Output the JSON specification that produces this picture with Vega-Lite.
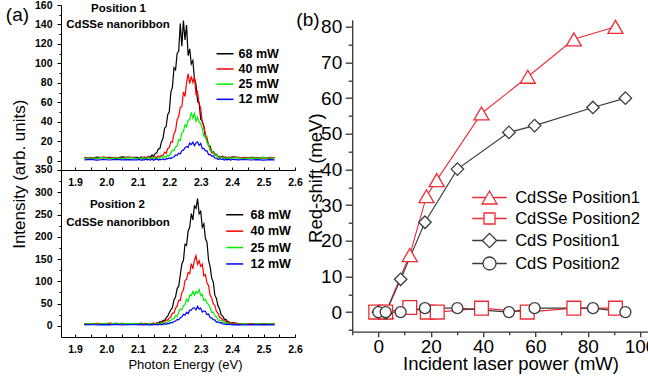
{
"$schema": "https://vega.github.io/schema/vega-lite/v6.json",
"padding": {"left": 5, "top": 0, "right": 0, "bottom": 0},
"config": {
  "font": "Liberation Sans",
  "view": {"stroke": null},
  "axis": {"grid": false, "labelFlush": false, "labelOverlap": false, "labelBound": false, "domainColor": "black", "tickColor": "black", "labelColor": "black", "titleColor": "black", "titleFontWeight": "normal"},
  "legend": {"labelColor": "black"}
},
"datasets": {
"pos1": [
{"e":1.93,"68 mW":3.2,"40 mW":2.6,"25 mW":2.1,"12 mW":0.9},
{"e":1.95,"68 mW":2.5,"40 mW":3.4,"25 mW":3.0,"12 mW":1.3},
{"e":1.97,"68 mW":3.6,"40 mW":2.2,"25 mW":2.4,"12 mW":0.6},
{"e":1.99,"68 mW":2.8,"40 mW":3.9,"25 mW":3.3,"12 mW":1.2},
{"e":2.01,"68 mW":3.4,"40 mW":2.7,"25 mW":1.9,"12 mW":0.7},
{"e":2.03,"68 mW":2.6,"40 mW":3.5,"25 mW":2.9,"12 mW":1.4},
{"e":2.05,"68 mW":3.9,"40 mW":2.4,"25 mW":2.2,"12 mW":0.8},
{"e":2.07,"68 mW":3.1,"40 mW":3.8,"25 mW":3.2,"12 mW":1.1},
{"e":2.09,"68 mW":3.5,"40 mW":2.9,"25 mW":2.6,"12 mW":0.9},
{"e":2.100,"68 mW":3.4,"40 mW":2.2,"25 mW":1.6,"12 mW":0.8},
{"e":2.105,"68 mW":2.3,"40 mW":3.2,"25 mW":3.1,"12 mW":1.5},
{"e":2.110,"68 mW":4.0,"40 mW":2.6,"25 mW":2.3,"12 mW":0.3},
{"e":2.115,"68 mW":2.8,"40 mW":3.7,"25 mW":3.3,"12 mW":1.1},
{"e":2.120,"68 mW":3.8,"40 mW":2.0,"25 mW":1.9,"12 mW":0.65},
{"e":2.125,"68 mW":2.2,"40 mW":3.5,"25 mW":2.6,"12 mW":1.6},
{"e":2.130,"68 mW":3.5,"40 mW":2.9,"25 mW":2.1,"12 mW":0.9},
{"e":2.135,"68 mW":4.6,"40 mW":4.3,"25 mW":3.4,"12 mW":1.3},
{"e":2.140,"68 mW":3.6,"40 mW":2.5,"25 mW":1.7,"12 mW":0.5},
{"e":2.145,"68 mW":5.9,"40 mW":3.5,"25 mW":3.0,"12 mW":1.4},
{"e":2.150,"68 mW":4.5,"40 mW":2.1,"25 mW":2.25,"12 mW":0.4},
{"e":2.155,"68 mW":7.1,"40 mW":4.1,"25 mW":3.3,"12 mW":1.3},
{"e":2.160,"68 mW":8.0,"40 mW":3.3,"25 mW":1.7,"12 mW":1.7},
{"e":2.165,"68 mW":12.0,"40 mW":4.9,"25 mW":3.0,"12 mW":0.7},
{"e":2.170,"68 mW":12.3,"40 mW":3.6,"25 mW":2.4,"12 mW":1.3},
{"e":2.175,"68 mW":19.1,"40 mW":5.2,"25 mW":4.0,"12 mW":0.95},
{"e":2.180,"68 mW":23.0,"40 mW":5.4,"25 mW":3.3,"12 mW":1.85},
{"e":2.185,"68 mW":33.2,"40 mW":8.7,"25 mW":4.3,"12 mW":0.9},
{"e":2.190,"68 mW":35.0,"40 mW":7.6,"25 mW":3.6,"12 mW":2.1},
{"e":2.195,"68 mW":47.2,"40 mW":12.3,"25 mW":5.9,"12 mW":1.85},
{"e":2.200,"68 mW":50.2,"40 mW":13.4,"25 mW":5.0,"12 mW":2.9},
{"e":2.205,"68 mW":70.2,"40 mW":19.4,"25 mW":8.0,"12 mW":2.2},
{"e":2.210,"68 mW":75.6,"40 mW":19.0,"25 mW":10.7,"12 mW":3.5},
{"e":2.215,"68 mW":95.5,"40 mW":27.6,"25 mW":10.1,"12 mW":3.8},
{"e":2.220,"68 mW":93.3,"40 mW":30.7,"25 mW":14.0,"12 mW":5.9},
{"e":2.225,"68 mW":110.1,"40 mW":42.4,"25 mW":15.5,"12 mW":5.4},
{"e":2.230,"68 mW":112.7,"40 mW":45.2,"25 mW":21.6,"12 mW":7.7},
{"e":2.235,"68 mW":141.0,"40 mW":55.0,"25 mW":20.7,"12 mW":6.9},
{"e":2.240,"68 mW":117.7,"40 mW":55.4,"25 mW":28.6,"12 mW":10.2},
{"e":2.245,"68 mW":144.0,"40 mW":70.6,"25 mW":29.9,"12 mW":10.8},
{"e":2.250,"68 mW":124.2,"40 mW":66.0,"25 mW":37.0,"12 mW":13.4},
{"e":2.255,"68 mW":139.5,"40 mW":80.2,"25 mW":34.8,"12 mW":14.5},
{"e":2.260,"68 mW":107.9,"40 mW":89.2,"25 mW":41.6,"12 mW":13.6},
{"e":2.265,"68 mW":114.9,"40 mW":79.1,"25 mW":42.1,"12 mW":18.1},
{"e":2.270,"68 mW":99.3,"40 mW":86.7,"25 mW":49.6,"12 mW":16.5},
{"e":2.275,"68 mW":102.9,"40 mW":80.4,"25 mW":43.6,"12 mW":19.0},
{"e":2.280,"68 mW":84.5,"40 mW":86.0,"25 mW":48.6,"12 mW":15.4},
{"e":2.285,"68 mW":78.5,"40 mW":68.6,"25 mW":40.5,"12 mW":18.3},
{"e":2.290,"68 mW":60.7,"40 mW":71.1,"25 mW":44.6,"12 mW":19.4},
{"e":2.295,"68 mW":59.6,"40 mW":58.2,"25 mW":39.5,"12 mW":15.7},
{"e":2.300,"68 mW":42.5,"40 mW":54.3,"25 mW":38.3,"12 mW":17.7},
{"e":2.305,"68 mW":40.6,"40 mW":39.3,"25 mW":33.0,"12 mW":12.4},
{"e":2.310,"68 mW":35.6,"40 mW":35.1,"25 mW":25.3,"12 mW":12.7},
{"e":2.315,"68 mW":24.1,"40 mW":26.6,"25 mW":25.5,"12 mW":10.0},
{"e":2.320,"68 mW":21.6,"40 mW":23.9,"25 mW":18.5,"12 mW":10.0},
{"e":2.325,"68 mW":15.7,"40 mW":15.4,"25 mW":16.5,"12 mW":6.2},
{"e":2.330,"68 mW":14.8,"40 mW":13.4,"25 mW":10.5,"12 mW":6.5},
{"e":2.335,"68 mW":9.1,"40 mW":8.0,"25 mW":9.9,"12 mW":4.7},
{"e":2.340,"68 mW":9.4,"40 mW":8.0,"25 mW":8.8,"12 mW":4.8},
{"e":2.345,"68 mW":6.6,"40 mW":5.7,"25 mW":5.6,"12 mW":2.5},
{"e":2.350,"68 mW":6.7,"40 mW":5.5,"25 mW":6.1,"12 mW":2.7},
{"e":2.355,"68 mW":3.9,"40 mW":4.5,"25 mW":3.3,"12 mW":1.2},
{"e":2.360,"68 mW":4.4,"40 mW":2.9,"25 mW":3.8,"12 mW":2.1},
{"e":2.365,"68 mW":3.5,"40 mW":4.4,"25 mW":2.8,"12 mW":1.25},
{"e":2.370,"68 mW":4.6,"40 mW":3.0,"25 mW":3.5,"12 mW":1.8},
{"e":2.375,"68 mW":2.7,"40 mW":3.7,"25 mW":1.9,"12 mW":0.7},
{"e":2.380,"68 mW":3.7,"40 mW":2.0,"25 mW":3.1,"12 mW":1.2},
{"e":2.385,"68 mW":2.0,"40 mW":3.1,"25 mW":2.5,"12 mW":0.8},
{"e":2.390,"68 mW":3.5,"40 mW":3.8,"25 mW":3.5,"12 mW":1.6},
{"e":2.395,"68 mW":2.9,"40 mW":2.5,"25 mW":2.0,"12 mW":0.45},
{"e":2.400,"68 mW":3.6,"40 mW":4.1,"25 mW":2.8,"12 mW":1.35},
{"e":2.42,"68 mW":3.3,"40 mW":2.8,"25 mW":3.0,"12 mW":0.8},
{"e":2.44,"68 mW":2.6,"40 mW":3.4,"25 mW":2.2,"12 mW":1.2},
{"e":2.46,"68 mW":3.5,"40 mW":2.5,"25 mW":2.9,"12 mW":0.7},
{"e":2.48,"68 mW":2.9,"40 mW":3.2,"25 mW":2.4,"12 mW":1.1},
{"e":2.50,"68 mW":3.4,"40 mW":2.7,"25 mW":3.1,"12 mW":0.6},
{"e":2.52,"68 mW":2.7,"40 mW":3.3,"25 mW":2.5,"12 mW":1.0},
{"e":2.535,"68 mW":3.1,"40 mW":2.9,"25 mW":2.8,"12 mW":0.8}
],
"pos2": [
{"e":1.93,"68 mW":4.3,"40 mW":5.1,"25 mW":3.8,"12 mW":2.4},
{"e":1.95,"68 mW":5.2,"40 mW":3.9,"25 mW":4.9,"12 mW":3.1},
{"e":1.97,"68 mW":3.8,"40 mW":5.6,"25 mW":3.5,"12 mW":1.9},
{"e":1.99,"68 mW":4.9,"40 mW":4.4,"25 mW":5.3,"12 mW":2.8},
{"e":2.01,"68 mW":4.1,"40 mW":6.0,"25 mW":4.2,"12 mW":2.2},
{"e":2.03,"68 mW":5.6,"40 mW":4.5,"25 mW":5.8,"12 mW":3.3},
{"e":2.05,"68 mW":4.4,"40 mW":5.7,"25 mW":4.0,"12 mW":2.0},
{"e":2.07,"68 mW":5.3,"40 mW":4.2,"25 mW":5.5,"12 mW":2.9},
{"e":2.09,"68 mW":4.7,"40 mW":5.4,"25 mW":4.6,"12 mW":2.5},
{"e":2.100,"68 mW":3.2,"40 mW":3.2,"25 mW":4.6,"12 mW":2.6},
{"e":2.105,"68 mW":5.0,"40 mW":4.7,"25 mW":3.9,"12 mW":2.1},
{"e":2.110,"68 mW":5.9,"40 mW":5.5,"25 mW":5.4,"12 mW":3.4},
{"e":2.115,"68 mW":3.6,"40 mW":3.9,"25 mW":3.3,"12 mW":1.7},
{"e":2.120,"68 mW":4.8,"40 mW":5.9,"25 mW":4.4,"12 mW":3.0},
{"e":2.125,"68 mW":4.0,"40 mW":3.5,"25 mW":2.7,"12 mW":2.2},
{"e":2.130,"68 mW":5.7,"40 mW":4.9,"25 mW":4.8,"12 mW":3.2},
{"e":2.135,"68 mW":3.5,"40 mW":4.1,"25 mW":3.8,"12 mW":1.5},
{"e":2.140,"68 mW":5.5,"40 mW":5.6,"25 mW":5.2,"12 mW":2.7},
{"e":2.145,"68 mW":4.6,"40 mW":3.5,"25 mW":3.3,"12 mW":2.06},
{"e":2.150,"68 mW":6.1,"40 mW":5.5,"25 mW":4.3,"12 mW":3.4},
{"e":2.155,"68 mW":4.4,"40 mW":4.9,"25 mW":3.7,"12 mW":2.55},
{"e":2.160,"68 mW":6.2,"40 mW":6.9,"25 mW":5.7,"12 mW":3.1},
{"e":2.165,"68 mW":6.3,"40 mW":5.0,"25 mW":3.5,"12 mW":2.1},
{"e":2.170,"68 mW":9.3,"40 mW":6.8,"25 mW":5.7,"12 mW":3.6},
{"e":2.175,"68 mW":8.4,"40 mW":5.6,"25 mW":4.9,"12 mW":2.2},
{"e":2.180,"68 mW":12.1,"40 mW":9.3,"25 mW":7.0,"12 mW":3.8},
{"e":2.185,"68 mW":12.0,"40 mW":9.3,"25 mW":4.9,"12 mW":4.9},
{"e":2.190,"68 mW":18.2,"40 mW":13.2,"25 mW":7.9,"12 mW":3.6},
{"e":2.195,"68 mW":21.8,"40 mW":12.7,"25 mW":7.9,"12 mW":5.2},
{"e":2.200,"68 mW":29.4,"40 mW":17.4,"25 mW":12.0,"12 mW":5.2},
{"e":2.205,"68 mW":36.0,"40 mW":19.9,"25 mW":12.1,"12 mW":7.8},
{"e":2.210,"68 mW":41.1,"40 mW":28.6,"25 mW":15.7,"12 mW":6.7},
{"e":2.215,"68 mW":58.1,"40 mW":28.5,"25 mW":15.7,"12 mW":10.4},
{"e":2.220,"68 mW":65.1,"40 mW":40.1,"25 mW":22.9,"12 mW":10.8},
{"e":2.225,"68 mW":83.7,"40 mW":44.2,"25 mW":21.7,"12 mW":14.6},
{"e":2.230,"68 mW":89.0,"40 mW":57.9,"25 mW":30.4,"12 mW":13.6},
{"e":2.235,"68 mW":114.3,"40 mW":57.3,"25 mW":37.9,"12 mW":18.2},
{"e":2.240,"68 mW":139.3,"40 mW":75.0,"25 mW":36.2,"12 mW":19.6},
{"e":2.245,"68 mW":146.8,"40 mW":80.3,"25 mW":45.5,"12 mW":26.0},
{"e":2.250,"68 mW":183.2,"40 mW":101.9,"25 mW":47.5,"12 mW":24.1},
{"e":2.255,"68 mW":180.8,"40 mW":104.6,"25 mW":59.9,"12 mW":30.5},
{"e":2.260,"68 mW":212.7,"40 mW":119.8,"25 mW":54.8,"12 mW":27.4},
{"e":2.265,"68 mW":221.4,"40 mW":117.0,"25 mW":68.9,"12 mW":35.2},
{"e":2.270,"68 mW":252.2,"40 mW":139.9,"25 mW":67.5,"12 mW":35.4},
{"e":2.275,"68 mW":237.9,"40 mW":128.1,"25 mW":77.2,"12 mW":40.1},
{"e":2.280,"68 mW":269.1,"40 mW":147.5,"25 mW":68.7,"12 mW":40.3},
{"e":2.285,"68 mW":263.8,"40 mW":157.6,"25 mW":76.8,"12 mW":36.1},
{"e":2.290,"68 mW":285.8,"40 mW":138.5,"25 mW":73.3,"12 mW":43.7},
{"e":2.295,"68 mW":251.6,"40 mW":146.2,"25 mW":81.4,"12 mW":37.6},
{"e":2.300,"68 mW":257.1,"40 mW":133.5,"25 mW":67.8,"12 mW":39.9},
{"e":2.305,"68 mW":221.4,"40 mW":138.8,"25 mW":71.1,"12 mW":30.9},
{"e":2.310,"68 mW":229.4,"40 mW":112.4,"25 mW":56.5,"12 mW":33.3},
{"e":2.315,"68 mW":196.1,"40 mW":115.0,"25 mW":59.5,"12 mW":32.9},
{"e":2.320,"68 mW":187.9,"40 mW":96.2,"25 mW":50.8,"12 mW":25.2},
{"e":2.325,"68 mW":147.1,"40 mW":90.5,"25 mW":47.9,"12 mW":26.8},
{"e":2.330,"68 mW":133.0,"40 mW":68.7,"25 mW":40.6,"12 mW":18.3},
{"e":2.335,"68 mW":107.2,"40 mW":62.7,"25 mW":30.6,"12 mW":18.1},
{"e":2.340,"68 mW":98.2,"40 mW":50.0,"25 mW":30.9,"12 mW":14.1},
{"e":2.345,"68 mW":68.9,"40 mW":45.8,"25 mW":22.4,"12 mW":13.6},
{"e":2.350,"68 mW":61.8,"40 mW":32.2,"25 mW":20.5,"12 mW":8.7},
{"e":2.355,"68 mW":45.1,"40 mW":28.5,"25 mW":13.2,"12 mW":9.1},
{"e":2.360,"68 mW":38.7,"40 mW":19.0,"25 mW":12.9,"12 mW":6.8},
{"e":2.365,"68 mW":24.7,"40 mW":17.9,"25 mW":11.8,"12 mW":7.2},
{"e":2.370,"68 mW":21.8,"40 mW":13.4,"25 mW":7.9,"12 mW":4.2},
{"e":2.375,"68 mW":15.2,"40 mW":12.0,"25 mW":8.8,"12 mW":4.5},
{"e":2.380,"68 mW":14.5,"40 mW":9.6,"25 mW":5.1,"12 mW":2.6},
{"e":2.385,"68 mW":9.9,"40 mW":6.5,"25 mW":5.9,"12 mW":3.9},
{"e":2.390,"68 mW":8.9,"40 mW":7.8,"25 mW":4.6,"12 mW":2.8},
{"e":2.395,"68 mW":5.7,"40 mW":5.5,"25 mW":5.5,"12 mW":3.7},
{"e":2.400,"68 mW":7.1,"40 mW":6.2,"25 mW":3.3,"12 mW":2.1},
{"e":2.42,"68 mW":4.9,"40 mW":5.2,"25 mW":3.9,"12 mW":2.6},
{"e":2.44,"68 mW":4.2,"40 mW":4.1,"25 mW":4.8,"12 mW":2.0},
{"e":2.46,"68 mW":5.1,"40 mW":5.0,"25 mW":3.6,"12 mW":2.9},
{"e":2.48,"68 mW":4.0,"40 mW":4.4,"25 mW":4.5,"12 mW":2.3},
{"e":2.50,"68 mW":4.8,"40 mW":5.3,"25 mW":3.8,"12 mW":2.7},
{"e":2.52,"68 mW":4.4,"40 mW":4.3,"25 mW":4.4,"12 mW":2.1},
{"e":2.535,"68 mW":4.6,"40 mW":4.8,"25 mW":4.1,"12 mW":2.4}
],
"shift": [
{"series":"CdSSe Position1","power":0,"shift":0},
{"series":"CdSSe Position1","power":2.8,"shift":0},
{"series":"CdSSe Position1","power":12,"shift":16},
{"series":"CdSSe Position1","power":18.4,"shift":32.5},
{"series":"CdSSe Position1","power":22.3,"shift":37},
{"series":"CdSSe Position1","power":39.4,"shift":55.7},
{"series":"CdSSe Position1","power":57.1,"shift":66},
{"series":"CdSSe Position1","power":74.7,"shift":76.5},
{"series":"CdSSe Position1","power":90.6,"shift":80},
{"series":"CdSSe Position2","power":-1,"shift":0},
{"series":"CdSSe Position2","power":2.8,"shift":0},
{"series":"CdSSe Position2","power":12,"shift":1.3},
{"series":"CdSSe Position2","power":18.7,"shift":0},
{"series":"CdSSe Position2","power":22.5,"shift":0},
{"series":"CdSSe Position2","power":39.4,"shift":1.1},
{"series":"CdSSe Position2","power":56.9,"shift":0},
{"series":"CdSSe Position2","power":74.7,"shift":1.1},
{"series":"CdSSe Position2","power":90.6,"shift":1.1},
{"series":"CdS Position1","power":0,"shift":0},
{"series":"CdS Position1","power":2.8,"shift":-0.3},
{"series":"CdS Position1","power":8.5,"shift":9.2},
{"series":"CdS Position1","power":17.8,"shift":25.2},
{"series":"CdS Position1","power":30.2,"shift":40.1},
{"series":"CdS Position1","power":49.9,"shift":50.4},
{"series":"CdS Position1","power":59.7,"shift":52.3},
{"series":"CdS Position1","power":82,"shift":57.4},
{"series":"CdS Position1","power":94.4,"shift":60},
{"series":"CdS Position2","power":0,"shift":0},
{"series":"CdS Position2","power":2.8,"shift":0},
{"series":"CdS Position2","power":8.5,"shift":0},
{"series":"CdS Position2","power":17.8,"shift":1.1},
{"series":"CdS Position2","power":30.2,"shift":1.1},
{"series":"CdS Position2","power":49.9,"shift":0},
{"series":"CdS Position2","power":59.7,"shift":1.1},
{"series":"CdS Position2","power":82,"shift":1.1},
{"series":"CdS Position2","power":94.4,"shift":0}
]
},
"bounds": "flush",
"spacing": 57.2,
"resolve": {"scale": {"color": "independent", "stroke": "independent", "shape": "independent", "size": "independent"}, "legend": {"color": "independent", "stroke": "independent", "shape": "independent", "size": "independent"}},
"hconcat": [
{
  "width": 234, "height": 332,
  "resolve": {"scale": {"y": "independent", "color": "independent"}, "axis": {"x": "independent", "y": "independent"}, "legend": {"color": "independent"}},
  "layer": [
  {
    "resolve": {"axis": {"x": "independent", "y": "independent"}},
    "layer": [
    {
      "data": {"name": "pos1"},
      "transform": [{"fold": ["68 mW", "40 mW", "25 mW", "12 mW"], "as": ["power", "intensity"]}],
      "mark": {"type": "line", "strokeWidth": 1.2},
      "encoding": {
        "x": {"field": "e", "type": "quantitative", "scale": {"domain": [1.8555, 2.6], "nice": false, "zero": false},
          "axis": {"orient": "bottom", "offset": -167, "title": null, "values": [1.9, 2.0, 2.1, 2.2, 2.3, 2.4, 2.5, 2.6], "format": ".1f", "ticks": false, "labelPadding": 7.5, "labelFontSize": 10.5, "labelFontWeight": "bold", "domainWidth": 1}},
        "y": {"field": "intensity", "type": "quantitative", "scale": {"domain": [-181.25, 160], "nice": false, "zero": false},
          "axis": {"orient": "left", "title": null, "domain": false, "values": [0, 20, 40, 60, 80, 100, 120, 140, 160], "tickSize": 4, "labelPadding": 5, "labelFontSize": 10.5, "labelFontWeight": "bold"}},
        "color": {"field": "power", "type": "nominal", "scale": {"domain": ["68 mW", "40 mW", "25 mW", "12 mW"], "range": ["#000000", "#ff0000", "#00ee00", "#0000ff"]},
          "legend": {"orient": "none", "legendX": 157.75, "legendY": 42.5, "title": null, "padding": 0, "symbolType": "M-2,0H2", "symbolSize": 72.25, "symbolStrokeWidth": 1.5, "labelOffset": 7.25, "rowPadding": 2.2, "labelFontSize": 12.5, "labelFontWeight": "bold", "labelColor": "black"}}
      }
    },
    {
      "data": {"values": []},
      "mark": {"type": "point"},
      "encoding": {
        "x": {"field": "e", "type": "quantitative", "axis": {"orient": "bottom", "offset": -167, "title": null, "values": [1.9, 1.95, 2.0, 2.05, 2.1, 2.15, 2.2, 2.25, 2.3, 2.35, 2.4, 2.45, 2.5, 2.55, 2.6], "labels": false, "domain": false, "tickSize": -3}},
        "y": {"field": "intensity", "type": "quantitative", "axis": {"orient": "left", "title": null, "values": [10, 30, 50, 70, 90, 110, 130, 150], "labels": false, "domain": false, "tickSize": 2}}
      }
    },
    {
      "data": {"values": [{}]},
      "mark": {"type": "text", "fontSize": 11.5, "fontWeight": "bold", "align": "center", "baseline": "middle", "color": "black"},
      "encoding": {"x": {"datum": 2.0385, "type": "quantitative", "axis": null}, "y": {"datum": 156.2, "type": "quantitative", "axis": null}, "text": {"value": "Position 1"}}
    },
    {
      "data": {"values": [{}]},
      "mark": {"type": "text", "fontSize": 11.5, "fontWeight": "bold", "align": "center", "baseline": "middle", "color": "black"},
      "encoding": {"x": {"datum": 2.037, "type": "quantitative", "axis": null}, "y": {"datum": 139.8, "type": "quantitative", "axis": null}, "text": {"value": "CdSSe nanoribbon"}}
    },
    {
      "data": {"values": [{}]},
      "mark": {"type": "text", "fontSize": 19, "align": "center", "baseline": "middle", "color": "black"},
      "encoding": {"x": {"datum": 1.717, "type": "quantitative", "axis": null}, "y": {"datum": 150, "type": "quantitative", "axis": null}, "text": {"value": "(a)"}}
    }
    ]
  },
  {
    "resolve": {"axis": {"x": "independent", "y": "independent"}},
    "layer": [
    {
      "data": {"name": "pos2"},
      "transform": [{"fold": ["68 mW", "40 mW", "25 mW", "12 mW"], "as": ["power", "intensity"]}],
      "mark": {"type": "line", "strokeWidth": 1.2},
      "encoding": {
        "x": {"field": "e", "type": "quantitative", "scale": {"domain": [1.8555, 2.6], "nice": false, "zero": false},
          "axis": {"orient": "bottom", "values": [1.9, 2.0, 2.1, 2.2, 2.3, 2.4, 2.5, 2.6], "format": ".1f", "ticks": false, "labelPadding": 7.5, "labelFontSize": 10.5, "labelFontWeight": "bold", "domainWidth": 1,
            "title": "Photon Energy (eV)", "titleFontSize": 13, "titleX": 124, "titleY": 27.3, "titleAlign": "center", "titleBaseline": "middle"}},
        "y": {"field": "intensity", "type": "quantitative", "scale": {"domain": [-25, 720.5], "nice": false, "zero": false},
          "axis": {"orient": "left", "values": [0, 50, 100, 150, 200, 250, 300, 350], "tickSize": 4, "labelPadding": 5, "labelFontSize": 10.5, "labelFontWeight": "bold", "domainWidth": 1,
            "title": "Intensity (arb. units)", "titleX": -41.5, "titleY": 168.7, "titleAngle": 270, "titleAlign": "center", "titleBaseline": "middle", "titleFontSize": 17}},
        "color": {"field": "power", "type": "nominal", "scale": {"domain": ["68 mW", "40 mW", "25 mW", "12 mW"], "range": ["#000000", "#ff0000", "#00ee00", "#0000ff"]},
          "legend": {"orient": "none", "legendX": 167.45, "legendY": 203.5, "title": null, "padding": 0, "symbolType": "M-2,0H2", "symbolSize": 72.25, "symbolStrokeWidth": 1.5, "labelOffset": 9.55, "rowPadding": 3.4, "labelFontSize": 12.5, "labelFontWeight": "bold", "labelColor": "black"}}
      }
    },
    {
      "data": {"values": []},
      "mark": {"type": "point"},
      "encoding": {
        "x": {"field": "e", "type": "quantitative", "axis": {"orient": "bottom", "title": null, "values": [1.9, 1.95, 2.0, 2.05, 2.1, 2.15, 2.2, 2.25, 2.3, 2.35, 2.4, 2.45, 2.5, 2.55, 2.6], "labels": false, "domain": false, "tickSize": -3}},
        "y": {"field": "intensity", "type": "quantitative", "axis": {"orient": "left", "title": null, "values": [25, 75, 125, 175, 225, 275, 325], "labels": false, "domain": false, "tickSize": 2}}
      }
    },
    {
      "data": {"values": [{}]},
      "mark": {"type": "text", "fontSize": 11.5, "fontWeight": "bold", "align": "center", "baseline": "middle", "color": "black"},
      "encoding": {"x": {"datum": 2.035, "type": "quantitative", "axis": null}, "y": {"datum": 271.4, "type": "quantitative", "axis": null}, "text": {"value": "Position 2"}}
    },
    {
      "data": {"values": [{}]},
      "mark": {"type": "text", "fontSize": 11.5, "fontWeight": "bold", "align": "center", "baseline": "middle", "color": "black"},
      "encoding": {"x": {"datum": 2.037, "type": "quantitative", "axis": null}, "y": {"datum": 230.3, "type": "quantitative", "axis": null}, "text": {"value": "CdSSe nanoribbon"}}
    }
    ]
  }
  ]
},
{
  "bounds": "flush",
  "spacing": 13.7,
  "vconcat": [
  {
    "width": 297, "height": 1,
    "data": {"values": []},
    "mark": {"type": "point"}
  },
  {
    "width": 297, "height": 312,
    "data": {"name": "shift"},
    "resolve": {"scale": {"stroke": "independent", "shape": "independent", "size": "independent"}, "legend": {"stroke": "independent", "shape": "independent", "size": "independent"}, "axis": {"x": "independent", "y": "independent"}},
    "layer": [
    {
      "mark": {"type": "line", "strokeWidth": 1.1},
      "encoding": {
        "x": {"field": "power", "type": "quantitative", "scale": {"domain": [-10, 103.5], "nice": false, "zero": false},
          "axis": {"orient": "bottom", "values": [0, 20, 40, 60, 80, 100], "tickSize": 5, "labelPadding": 1, "labelFontSize": 19, "domainColor": "#333333", "tickColor": "#333333", "domainWidth": 1.3, "tickWidth": 1.3,
            "title": "Incident laser power (mW)", "titleFontSize": 18.5, "titleX": 158.3, "titleY": 32, "titleAlign": "center", "titleBaseline": "middle"}},
        "y": {"field": "shift", "type": "quantitative", "scale": {"domain": [-5.5, 82], "nice": false, "zero": false},
          "axis": {"orient": "left", "values": [0, 10, 20, 30, 40, 50, 60, 70, 80], "tickSize": 7, "labelPadding": 3.5, "labelFontSize": 19, "domainColor": "#333333", "tickColor": "#333333", "domainWidth": 1.3, "tickWidth": 1.3,
            "title": "Red-shift (meV)", "titleFontSize": 18.5, "titleX": -37.2, "titleY": 158, "titleAngle": 270, "titleAlign": "center", "titleBaseline": "middle"}},
        "stroke": {"field": "series", "type": "nominal", "scale": {"domain": ["CdSSe Position1", "CdSSe Position2", "CdS Position1", "CdS Position2"], "range": ["#ee2a33", "#ee2a33", "#3a3a3a", "#3a3a3a"]}, "legend": null}
      }
    },
    {
      "mark": {"type": "point", "filled": true, "fill": "white", "strokeWidth": 1.3, "opacity": 1},
      "encoding": {
        "x": {"field": "power", "type": "quantitative", "axis": null},
        "y": {"field": "shift", "type": "quantitative", "axis": null},
        "stroke": {"field": "series", "type": "nominal", "scale": {"domain": ["CdSSe Position1", "CdSSe Position2", "CdS Position1", "CdS Position2"], "range": ["#ee2a33", "#ee2a33", "#3a3a3a", "#3a3a3a"]}, "legend": null},
        "shape": {"field": "series", "type": "nominal", "scale": {"domain": ["CdSSe Position1", "CdSSe Position2", "CdS Position1", "CdS Position2"], "range": ["triangle-up", "square", "diamond", "circle"]}, "legend": null},
        "size": {"field": "series", "type": "nominal", "scale": {"domain": ["CdSSe Position1", "CdSSe Position2", "CdS Position1", "CdS Position2"], "range": [225, 121, 205, 169]}, "legend": null}
      }
    },
    {
      "mark": {"type": "point", "filled": false, "strokeWidth": 1.3, "opacity": 0},
      "encoding": {
        "x": {"field": "power", "type": "quantitative", "axis": null},
        "y": {"field": "shift", "type": "quantitative", "axis": null},
        "stroke": {"field": "series", "type": "nominal", "scale": {"domain": ["CdSSe Position1", "CdSSe Position2", "CdS Position1", "CdS Position2"], "range": ["#ee2a33", "#ee2a33", "#3a3a3a", "#3a3a3a"]},
          "legend": {"orient": "none", "legendX": 128.8, "legendY": 169.3, "title": null, "padding": 0, "symbolSize": 225, "symbolStrokeWidth": 1.3, "symbolOpacity": 1, "labelOffset": 17.2, "rowPadding": 3, "labelFontSize": 16.5, "labelColor": "black"}},
        "shape": {"field": "series", "type": "nominal", "scale": {"domain": ["CdSSe Position1", "CdSSe Position2", "CdS Position1", "CdS Position2"], "range": ["M-2.3,0H-0.5M0.5,0H2.3M0,-0.866L1,0.866L-1,0.866Z", "M-2.3,0H-0.733M0.733,0H2.3M-0.733,-0.733H0.733V0.733H-0.733Z", "M-2.3,0H-0.953M0.953,0H2.3M-0.953,0L0,-0.953L0.953,0L0,0.953Z", "M-2.3,0H-0.867M0.867,0H2.3M0.867,0A0.867,0.867,0,1,1,-0.867,0A0.867,0.867,0,1,1,0.867,0Z"]},
          "legend": {"orient": "none", "legendX": 128.8, "legendY": 169.3, "title": null, "padding": 0, "symbolSize": 225, "symbolStrokeWidth": 1.3, "symbolOpacity": 1, "labelOffset": 17.2, "rowPadding": 3, "labelFontSize": 16.5, "labelColor": "black"}}
      }
    },
    {
      "data": {"values": []},
      "mark": {"type": "point"},
      "encoding": {
        "x": {"field": "power", "type": "quantitative", "axis": {"orient": "bottom", "title": null, "values": [-10, 10, 30, 50, 70, 90], "labels": false, "domain": false, "tickSize": 3, "tickColor": "#333333", "tickWidth": 1.3}},
        "y": {"field": "shift", "type": "quantitative", "axis": {"orient": "left", "title": null, "values": [-5, 5, 15, 25, 35, 45, 55, 65, 75], "labels": false, "domain": false, "tickSize": 4, "tickColor": "#333333", "tickWidth": 1.3}}
      }
    },
    {
      "data": {"values": [{}]},
      "mark": {"type": "text", "fontSize": 19, "align": "center", "baseline": "middle", "color": "black"},
      "encoding": {"x": {"datum": -26.9, "type": "quantitative", "axis": null}, "y": {"datum": 82, "type": "quantitative", "axis": null}, "text": {"value": "(b)"}}
    }
    ]
  }
  ]
}
]
}
